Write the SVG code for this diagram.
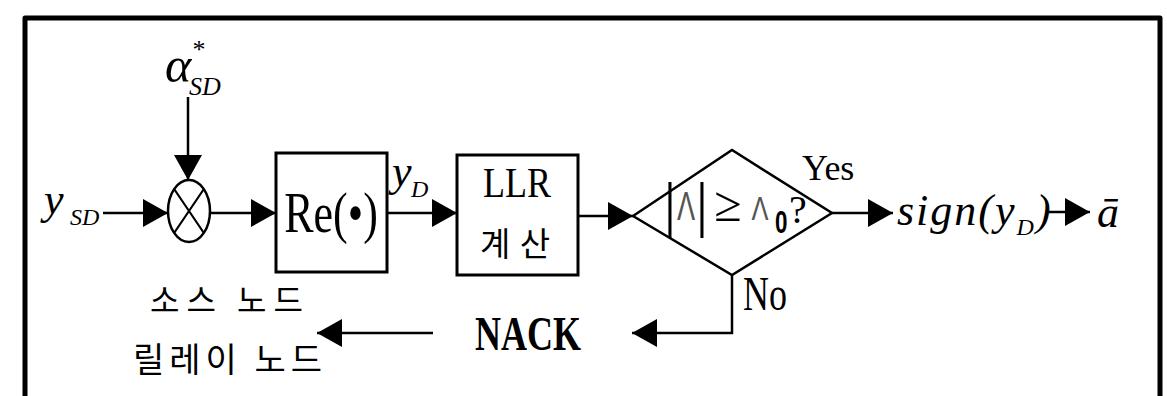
<svg xmlns="http://www.w3.org/2000/svg" width="1167" height="396" viewBox="0 0 1167 396">
  <style>
    .serif { font-family: "Liberation Serif", "Times New Roman", serif; fill: #000; }
    .it { font-style: italic; }
    .bold { font-weight: bold; }
    .sans { font-family: "Liberation Sans", Arial, sans-serif; fill: #000; }
    .kr { font-family: "Noto Sans CJK KR", "Noto Sans", sans-serif; fill: #000; }
    .lam { font-family: "Liberation Sans", Arial, sans-serif; fill: #555; }
    .box { fill: #fff; stroke: #000; stroke-width: 3; }
    .wire { fill: none; stroke: #000; stroke-width: 2.5; }
    .frame { fill: none; stroke: #000; stroke-width: 5; stroke-linejoin: round; }
  </style>
  <defs>
    <marker id="arrow" markerUnits="userSpaceOnUse" markerWidth="26" markerHeight="30" refX="25" refY="14" orient="auto">
      <path d="M0,0 L25,14 L0,28 Z" fill="#000"/>
    </marker>
  </defs>

  <rect width="1167" height="396" fill="#fff"/>

  <!-- outer frame, open at the bottom -->
  <path class="frame" d="M25,396 V18 H1160 V396"/>

  <!-- input labels -->
  <g id="alpha-label">
    <text class="serif it" x="165" y="82" font-size="50">α</text>
    <text class="serif" x="199" y="58" font-size="26" text-anchor="middle">*</text>
    <text class="serif it" x="189" y="95" font-size="26">SD</text>
  </g>
  <g id="ysd-label">
    <text class="serif it" x="44" y="214" font-size="44">y</text>
    <text class="serif it" x="70" y="225" font-size="24">SD</text>
  </g>

  <!-- multiplier -->
  <g id="mixer">
    <ellipse cx="189" cy="211" rx="21" ry="31" fill="#fff" stroke="#000" stroke-width="2.5"/>
    <path d="M174.2,189.1 L203.8,232.9 M203.8,189.1 L174.2,232.9" stroke="#000" stroke-width="2" fill="none"/>
  </g>

  <!-- real part block -->
  <g id="re-block">
    <rect class="box" x="276" y="153" width="111" height="119"/>
    <text class="serif" transform="translate(331,232) scale(1,1.3)" font-size="44" text-anchor="middle">Re(•)</text>
  </g>

  <g id="yd-label">
    <text class="serif it" x="392" y="186" font-size="44">y</text>
    <text class="serif it" x="411" y="197" font-size="24">D</text>
  </g>

  <!-- LLR computation block -->
  <g id="llr-block">
    <rect class="box" x="457" y="155" width="121" height="120"/>
    <text class="serif" transform="translate(517,197) scale(1,1.15)" font-size="36" text-anchor="middle">LLR</text>
    <text class="kr" x="480" y="256" font-size="33" textLength="70" lengthAdjust="spacing">계산</text>
  </g>

  <!-- threshold decision -->
  <g id="decision">
    <path d="M633,216 L732,150 L832,213 L732,275 Z" fill="#fff" stroke="#000" stroke-width="2.5"/>
    <text class="serif" x="670" y="225" font-size="62" text-anchor="middle">|</text>
    <text class="lam" transform="translate(686,220) scale(0.85,1.25)" font-size="32" text-anchor="middle">Λ</text>
    <text class="serif" x="702" y="225" font-size="62" text-anchor="middle">|</text>
    <text class="serif" x="728" y="221" font-size="50" text-anchor="middle">≥</text>
    <text class="lam" transform="translate(760,220) scale(0.85,1.1)" font-size="30" text-anchor="middle">Λ</text>
    <text class="sans bold" transform="translate(775,233) scale(0.8,1.1)" font-size="28">0</text>
    <text class="serif" x="789" y="223" font-size="40">?</text>
  </g>

  <g id="yes-label">
    <text class="serif" x="802" y="180" font-size="36">Yes</text>
  </g>
  <g id="no-label">
    <text class="serif" transform="translate(743,310) scale(1,1.33)" font-size="36">No</text>
  </g>

  <g id="sign-output">
    <text class="serif it" x="897" y="225" font-size="44" letter-spacing="2">sign(y<tspan font-size="24" dy="10">D</tspan><tspan dy="-10">)</tspan></text>
  </g>
  <g id="abar-output">
    <text class="serif it" x="1097" y="227" font-size="44">ā</text>
  </g>

  <g id="nack-label">
    <text class="serif bold" transform="translate(475,350) scale(1,1.35)" font-size="36">NACK</text>
  </g>

  <g id="node-labels">
    <text class="kr" x="150" y="312" font-size="32" textLength="153" lengthAdjust="spacing">소스 노드</text>
    <text class="kr" x="133" y="372" font-size="34" textLength="189" lengthAdjust="spacing">릴레이 노드</text>
  </g>

  <!-- signal flow -->
  <g id="connectors">
    <path class="wire" d="M188,97 V180" marker-end="url(#arrow)"/>
    <path class="wire" d="M103,213 H168" marker-end="url(#arrow)"/>
    <path class="wire" d="M210,213 H276" marker-end="url(#arrow)"/>
    <path class="wire" d="M387,213 H457" marker-end="url(#arrow)"/>
    <path class="wire" d="M578,216 H633" marker-end="url(#arrow)"/>
    <path class="wire" d="M832,213 H893" marker-end="url(#arrow)"/>
    <path class="wire" d="M1047,212 H1090" marker-end="url(#arrow)"/>
    <path class="wire" d="M732,275 V333 H632" marker-end="url(#arrow)"/>
    <path class="wire" d="M433,333 H317" marker-end="url(#arrow)"/>
  </g>
</svg>
